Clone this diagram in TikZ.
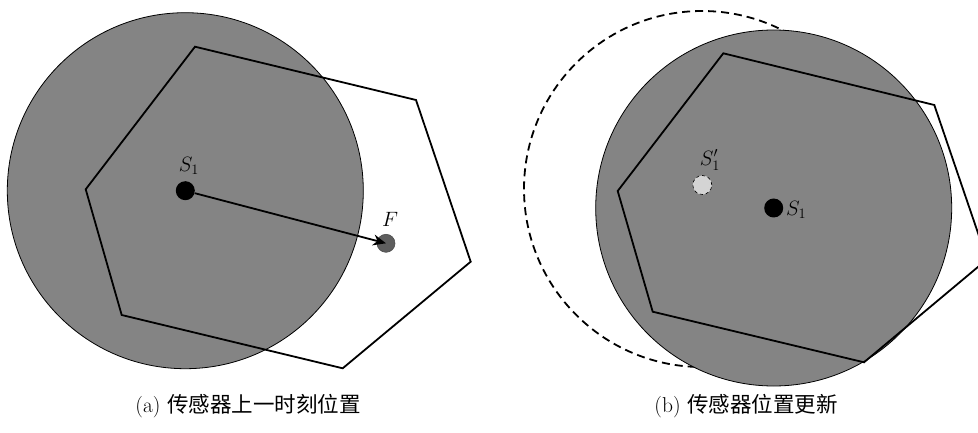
\documentclass[tikz,border=0pt]{standalone}
\usepackage{fontspec}
\newfontfamily\cjk{Noto Sans CJK SC}
\usetikzlibrary{arrows.meta}
\definecolor{zonegray}{HTML}{848484}
\definecolor{fgray}{HTML}{5E5E5E}
\definecolor{lgray}{HTML}{D4D4D4}
\tikzset{
  zone/.style={draw=black, line width=0.8pt, fill=zonegray},
  oldzone/.style={draw=black, line width=1.8pt, dash pattern=on 8pt off 5pt},
  poly/.style={draw=black, line width=1.8pt, line join=miter},
  sensor/.style={circle, fill=black, minimum size=19pt, inner sep=0pt},
  target/.style={circle, fill=fgray, draw=black!70, line width=0.6pt, minimum size=18pt, inner sep=0pt},
  oldsensor/.style={circle, fill=lgray, draw=black, dashed, line width=0.6pt, minimum size=19pt, inner sep=0pt},
  lab/.style={font=\fontsize{20}{22}\selectfont, inner sep=0pt},
  captext/.style={font=\fontsize{21.5}{24}\selectfont, inner sep=0pt},
  move/.style={draw=black, line width=1.8pt, -{Stealth[length=13pt,width=11pt]}}
}
\begin{document}
\begin{tikzpicture}[x=1pt,y=-1pt]
\useasboundingbox (0,0) rectangle (978,433);
\clip (0,0) rectangle (978,433);
% ---------- panel (a) ----------
\coordinate (ca) at (185.3,190.7);
\fill[zone] (ca) circle (178);
\draw[poly] (195,46.7) -- (416,100) -- (470.7,261.7) -- (342.7,368.3) -- (121.7,315) -- (85.7,189.3) -- cycle;
\node[sensor] (S1a) at (ca) {};
\node[target] (F) at (386,243.3) {};
\node[lab] (S1alab) at (189,166) {$S_1$};
\node[lab] (Flab) at (390,219) {$F$};
\draw[move] (S1a) -- (F.center);
\node[captext] (capa) at (248,406) {(a) {\cjk 传感器上一时刻位置}};
% ---------- panel (b) ----------
\coordinate (cold) at (702,189);
\coordinate (cb) at (773.7,208);
\draw[oldzone] (cold) circle (178);
\fill[zone] (cb) circle (178);
\draw[poly] (723.3,53.3) -- (934.3,105) -- (987,259.4) -- (864,362.3) -- (652.7,311.7) -- (617.7,191) -- cycle;
\node[oldsensor] (S1old) at (702.3,185) {};
\node[sensor] (S1b) at (cb) {};
\node[lab] (S1oldlab) at (710,160) {$S_1'$};
\node[lab, anchor=west] (S1blab) at (786,210) {$S_1$};
\node[captext] (capb) at (746,406) {(b) {\cjk 传感器位置更新}};
\end{tikzpicture}
\end{document}
